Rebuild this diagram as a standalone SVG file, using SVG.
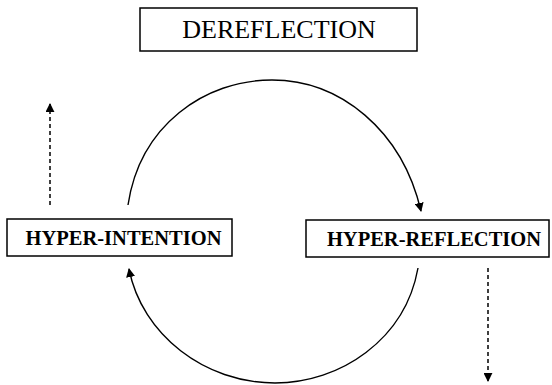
<svg xmlns="http://www.w3.org/2000/svg" width="552" height="385" viewBox="0 0 552 385">
<style>
.box{fill:#fff;stroke:#000;stroke-width:1.5}
.t{font-family:"Liberation Serif","Times New Roman",serif;fill:#000;text-anchor:middle}
.b{font-weight:bold;font-size:20.5px}
.c{fill:none;stroke:#000;stroke-width:1.4}
.d{fill:none;stroke:#000;stroke-width:1.5;stroke-dasharray:4,3}
</style>
<defs>
<marker id="ah" viewBox="0 0 10 10" refX="9" refY="5" markerWidth="9" markerHeight="9" markerUnits="userSpaceOnUse" orient="auto">
<path d="M0,0 L10,5 L0,10 Z" fill="#000"/>
</marker>
</defs>
<g id="dereflection">
<rect class="box" x="140" y="8" width="277" height="43"/>
<text class="t" x="279" y="38" font-size="26">DEREFLECTION</text>
</g>
<g id="hyper-intention">
<rect class="box" x="7" y="219" width="225" height="37"/>
<text class="t b" x="123.5" y="245">HYPER-INTENTION</text>
</g>
<g id="hyper-reflection">
<rect class="box" x="306" y="220" width="243" height="37"/>
<text class="t b" x="434" y="246">HYPER-REFLECTION</text>
</g>
<g id="connectors">
<path class="c" d="M128,205 C140,125 205,80 272,80 C340,80 402,130 421,211" marker-end="url(#ah)"/>
<path class="c" d="M418,268 C405,340 340,383 275,383 C205,383 142,335 129,269" marker-end="url(#ah)"/>
<path class="d" d="M50,205 L50,104" marker-end="url(#ah)"/>
<path class="d" d="M488,268 L488,381" marker-end="url(#ah)"/>
</g>
</svg>
